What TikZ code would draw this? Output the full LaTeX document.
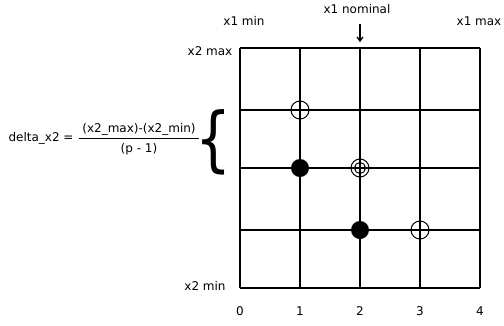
\documentclass[tikz,border=0pt]{standalone}
\usepackage{fontspec}
\usetikzlibrary{arrows.meta}
\setmainfont{DejaVu Sans}
\begin{document}
\begin{tikzpicture}[x=1pt,y=-1pt,
  lbl/.style={font=\fontsize{12}{14}\selectfont, inner sep=0pt},
  gridline/.style={line width=1.6pt},
  opendot/.style={circle, draw, line width=1pt, minimum size=18pt, inner sep=0pt},
  filldot/.style={circle, fill, minimum size=18pt, inner sep=0pt}]
\useasboundingbox (0,0) rectangle (504,325);
% grid
\foreach \x in {240,300,360,420,480} \draw[gridline] (\x,48) -- (\x,288);
\foreach \y in {48,110,168,230,288} \draw[gridline] (240,\y) -- (480,\y);
% markers
\node[opendot] (o1) at (300,110) {};
\node[filldot] (f1) at (300,168) {};
\node[opendot] (d1) at (360,168) {};
\node[circle, draw, line width=1pt, minimum size=11pt, inner sep=0pt] (d2) at (360,168) {};
\node[filldot] (f2) at (360,230) {};
\node[opendot] (o2) at (420,230) {};
% top labels
\node[lbl] (xmin) at (244,21) {x1 min};
\node[lbl] (xnom) at (357,9) {x1 nominal};
\node[lbl] (xmax) at (479,21) {x1 max};
\coordinate (arrS) at (360,24);
\coordinate (arrE) at (360,42);
\draw[line width=1.3pt, -{Straight Barb[length=4pt,width=6pt]}] (arrS) -- (arrE);
% side labels
\node[lbl] (ymax) at (210,51) {x2 max};
\node[lbl] (ymin) at (205,286) {x2 min};
% bottom numbers
\foreach \x/\n in {240/0,300/1,360/2,420/3,480/4}
  \node[lbl] (n\n) at (\x,311) {\n};
% formula
\node[lbl] (dl) at (41,138) {delta\_x2 =};
\node[lbl] (num) at (139,129) {(x2\_max)-(x2\_min)};
\node[lbl] (den) at (139,149) {(p - 1)};
\draw[line width=0.8pt] (79,138.5) -- (199,138.5);
\node[inner sep=0pt, font=\fontsize{71}{71}\selectfont, xscale=0.8] (br) at (214,142) {\{};
\end{tikzpicture}
\end{document}
